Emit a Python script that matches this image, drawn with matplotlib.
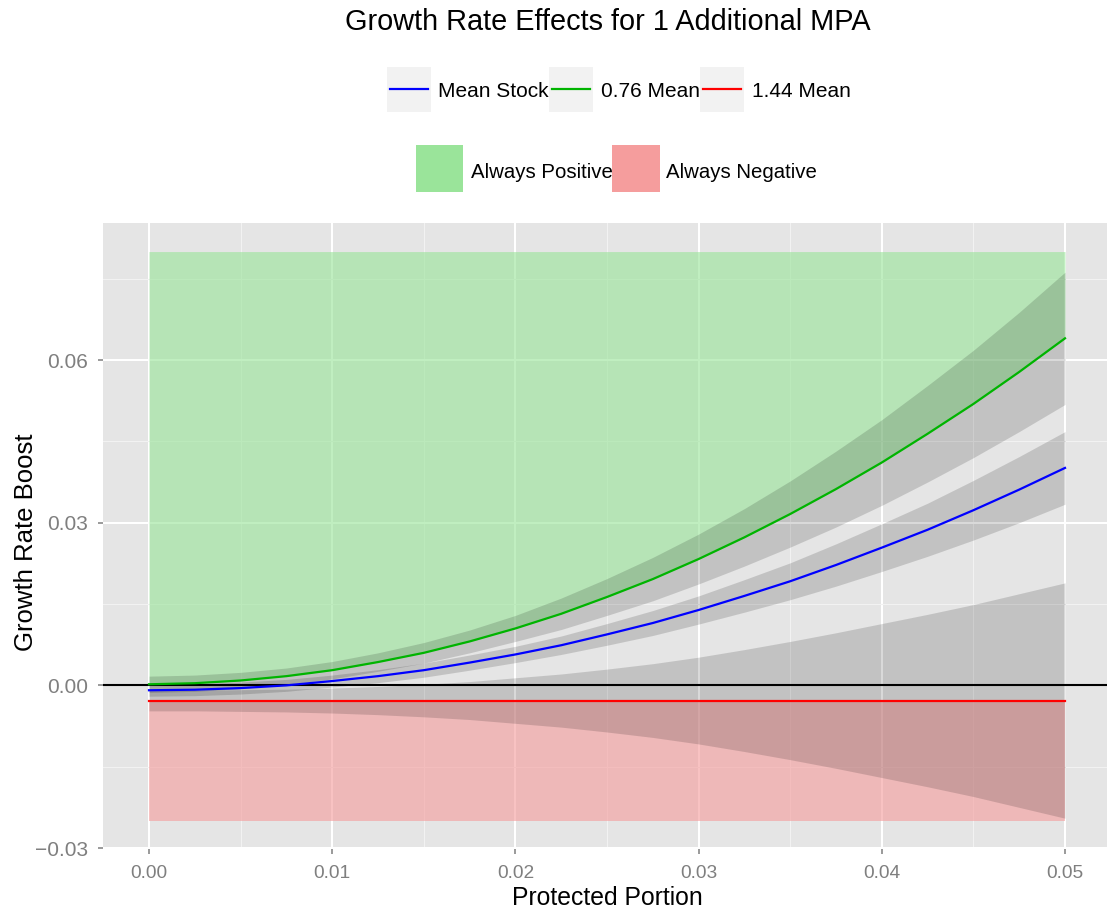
import matplotlib
matplotlib.use("Agg")
import matplotlib.pyplot as plt
from matplotlib.patches import Rectangle
from matplotlib.lines import Line2D

plt.rcParams['font.family'] = ['Liberation Sans', 'DejaVu Sans']

# ---- data -------------------------------------------------------------
protected = [0.0000, 0.0025, 0.0050, 0.0075, 0.0100, 0.0125, 0.0150,
             0.0175, 0.0200, 0.0225, 0.0250, 0.0275, 0.0300, 0.0325,
             0.0350, 0.0375, 0.0400, 0.0425, 0.0450, 0.0475, 0.0500]

# Mean stock
mean_stock = [-0.0009, -0.0008, -0.0005, 0.0000, 0.0008, 0.0017, 0.0028,
              0.0042, 0.0057, 0.0074, 0.0094, 0.0115, 0.0139, 0.0165,
              0.0192, 0.0222, 0.0254, 0.0287, 0.0323, 0.0361, 0.0401]
mean_stock_lo = [-0.0020, -0.0019, -0.0016, -0.0011, -0.0003, 0.0005,
                 0.0015, 0.0028, 0.0042, 0.0057, 0.0074, 0.0092, 0.0113,
                 0.0135, 0.0158, 0.0183, 0.0210, 0.0238, 0.0268, 0.0300,
                 0.0334]
mean_stock_hi = [0.0002, 0.0003, 0.0006, 0.0011, 0.0019, 0.0029, 0.0041,
                 0.0056, 0.0072, 0.0091, 0.0114, 0.0138, 0.0165, 0.0195,
                 0.0226, 0.0261, 0.0298, 0.0336, 0.0378, 0.0422, 0.0468]

# 0.76 x mean stock
low_stock = [0.0002, 0.0004, 0.0009, 0.0017, 0.0028, 0.0043, 0.0060,
             0.0081, 0.0105, 0.0132, 0.0163, 0.0196, 0.0233, 0.0273,
             0.0316, 0.0362, 0.0411, 0.0464, 0.0519, 0.0578, 0.0640]
low_stock_lo = [-0.0013, -0.0011, -0.0006, 0.0002, 0.0012, 0.0026,
                0.0041, 0.0060, 0.0081, 0.0103, 0.0129, 0.0156, 0.0187,
                0.0220, 0.0255, 0.0292, 0.0332, 0.0375, 0.0420, 0.0468,
                0.0518]
low_stock_hi = [0.0017, 0.0019, 0.0024, 0.0032, 0.0044, 0.0060, 0.0079,
                0.0102, 0.0129, 0.0161, 0.0197, 0.0236, 0.0279, 0.0326,
                0.0377, 0.0432, 0.0490, 0.0553, 0.0618, 0.0688, 0.0762]

# 1.44 x mean stock
high_stock = [-0.0028] * 21
high_stock_lo = [-0.0047, -0.0047, -0.0048, -0.0049, -0.0051, -0.0054,
                 -0.0058, -0.0063, -0.0070, -0.0077, -0.0086, -0.0096,
                 -0.0108, -0.0122, -0.0137, -0.0153, -0.0170, -0.0187,
                 -0.0205, -0.0225, -0.0245]
high_stock_hi = [-0.0009, -0.0009, -0.0008, -0.0007, -0.0005, -0.0002,
                 0.0002, 0.0007, 0.0014, 0.0021, 0.0030, 0.0040, 0.0052,
                 0.0066, 0.0081, 0.0097, 0.0114, 0.0131, 0.0149, 0.0169,
                 0.0189]

series_names = ["Mean Stock", "0.76 Mean", "1.44 Mean"]
region_names = ["Always Positive", "Always Negative"]

# "Always Positive" lies above the 0.76 curve, "Always Negative" below
# the 1.44 curve
positive_top = 0.08
negative_bottom = -0.025

x_ticks = [0.00, 0.01, 0.02, 0.03, 0.04, 0.05]
x_tick_labels = ["0.00", "0.01", "0.02", "0.03", "0.04", "0.05"]
y_ticks = [-0.03, 0.00, 0.03, 0.06]
y_tick_labels = ["\u22120.03", "0.00", "0.03", "0.06"]

# ---- styling ----------------------------------------------------------
W, H = 1107, 911
line_colors = ["#0000FF", "#00B400", "#FF0000"]
region_colors = ["#9AE49A", "#F59D9D"]
panel_bg = "#E5E5E5"
tick_grey = "#7F7F7F"

fig = plt.figure(figsize=(W / 100, H / 100), dpi=100)
fig.patch.set_facecolor("white")

left_px, right_px = 103.2, 1110.8
top_px, bottom_px = 223.1, 849.4
ax = fig.add_axes([left_px / W, 1 - bottom_px / H,
                   (right_px - left_px) / W, (bottom_px - top_px) / H])
ax.set_facecolor(panel_bg)
for s in ax.spines.values():
    s.set_visible(False)

ax.set_xlim(-0.0025, 0.0525)
ax.set_ylim(-0.03025, 0.08525)

ax.set_xticks(x_ticks)
ax.set_xticklabels(x_tick_labels)
ax.set_yticks(y_ticks)
ax.set_yticklabels(y_tick_labels)
ax.set_xticks([0.005, 0.015, 0.025, 0.035, 0.045], minor=True)
ax.set_yticks([-0.015, 0.015, 0.045, 0.075], minor=True)
ax.grid(which="major", color="white", linewidth=1.45)
ax.grid(which="minor", color="#F2F2F2", linewidth=0.75)
ax.set_axisbelow(True)
ax.tick_params(which="major", length=3.6, width=1.1, color=tick_grey,
               labelcolor=tick_grey)
ax.tick_params(axis="x", pad=7.5, labelsize=13.8)
ax.tick_params(axis="y", pad=7, labelsize=15)
ax.tick_params(which="minor", length=0)

# shaded sign regions
ax.fill_between(protected, low_stock, [positive_top] * len(protected),
                color=region_colors[0], alpha=0.62, linewidth=0, zorder=1)
ax.fill_between(protected, [negative_bottom] * len(protected), high_stock,
                color=region_colors[1], alpha=0.62, linewidth=0, zorder=1)

# confidence ribbons
for lo, hi in [(mean_stock_lo, mean_stock_hi),
               (low_stock_lo, low_stock_hi),
               (high_stock_lo, high_stock_hi)]:
    ax.fill_between(protected, lo, hi, color="black", alpha=0.15,
                    linewidth=0, zorder=2)

ax.axhline(0, color="black", linewidth=1.5, zorder=3)

for ys, c in zip([mean_stock, low_stock, high_stock], line_colors):
    ax.plot(protected, ys, color=c, linewidth=1.6, zorder=4)

# ---- titles and axis labels ------------------------------------------
def fx(px):
    return px / W

def fy(py):
    return 1 - py / H

fig.text(fx(607.5), fy(29.5), "Growth Rate Effects for 1 Additional MPA",
         ha="center", va="baseline", fontsize=20.8, color="black")
fig.text(fx(607.5), fy(905), "Protected Portion", ha="center",
         va="baseline", fontsize=17.8, color="black")
fig.text(fx(33), fy(542.5), "Growth Rate Boost", rotation=90,
         rotation_mode="anchor", ha="center", va="baseline",
         fontsize=18.5, color="black")

# ---- legends -----------------------------------------------------------
key_x = [386.5, 548.5, 699.5]
key_text_x = [438.3, 600.7, 752.3]
key_w, key_h, key_top = 44.5, 45.0, 66.7
for kx, tx, name, c in zip(key_x, key_text_x, series_names, line_colors):
    fig.add_artist(Rectangle((fx(kx), fy(key_top + key_h)), key_w / W,
                             key_h / H, transform=fig.transFigure,
                             facecolor="#F2F2F2", edgecolor="none"))
    fig.add_artist(Line2D([fx(kx + 3), fx(kx + key_w - 3)],
                          [fy(key_top + key_h / 2)] * 2,
                          transform=fig.transFigure, color=c, linewidth=1.6))
    fig.text(fx(tx), fy(97.3), name, ha="left", va="baseline",
             fontsize=15, color="black")

reg_x = [416.0, 612.3]
reg_text_x = [470.7, 666.0]
reg_w, reg_h, reg_top = 47.3, 47.3, 145.0
for kx, tx, name, c in zip(reg_x, reg_text_x, region_names, region_colors):
    fig.add_artist(Rectangle((fx(kx), fy(reg_top + reg_h)), reg_w / W,
                             reg_h / H, transform=fig.transFigure,
                             facecolor=c, edgecolor="none"))
    fig.text(fx(tx), fy(178.0), name, ha="left", va="baseline",
             fontsize=14.7, color="black")

fig.savefig("out.png", dpi=100)
